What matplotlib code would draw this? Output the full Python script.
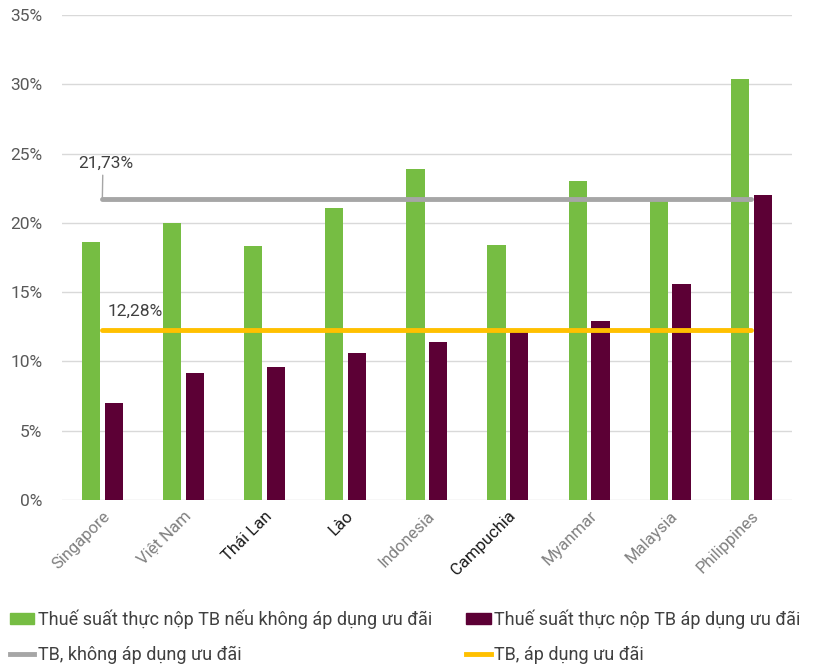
import matplotlib
matplotlib.use('Agg')

import numpy as np
import matplotlib.pyplot as plt
from matplotlib.patches import Patch
from matplotlib.lines import Line2D

plt.rcParams['font.family'] = ['Roboto', 'DejaVu Sans']

# === Data ===
countries = ["Singapore", "Việt Nam", "Thái Lan", "Lào", "Indonesia",
             "Campuchia", "Myanmar", "Malaysia", "Philippines"]
no_incentive = [18.6, 20.0, 18.3, 21.1, 23.9, 18.4, 23.0, 21.7, 30.4]
with_incentive = [7.0, 9.2, 9.6, 10.6, 11.4, 12.2, 12.9, 15.6, 22.0]
avg_no_incentive = 21.73
avg_incentive = 12.28
y_ticks = [0, 5, 10, 15, 20, 25, 30, 35]
dark_labels = ["Thái Lan", "Lào", "Campuchia"]

green = "#76BD43"
purple = "#5C0035"
gray = "#A6A6A6"
yellow = "#FFC000"

# === Figure ===
fig = plt.figure(figsize=(8.13, 6.67), dpi=100)
ax = fig.add_axes([0.076, 0.2504, 0.898, 0.7271])

x = np.arange(len(countries))
w = 0.225
ax.bar(x - 0.14, no_incentive, w, color=green, zorder=2)
ax.bar(x + 0.14, with_incentive, w, color=purple, zorder=2)

ax.plot([x[0], x[-1]], [avg_no_incentive] * 2, color=gray, lw=3.5,
        solid_capstyle='round', zorder=3)
ax.plot([x[0], x[-1]], [avg_incentive] * 2, color=yellow, lw=3.5,
        solid_capstyle='round', zorder=3)

ax.annotate(f"{avg_no_incentive:.2f}%".replace(".", ","),
            xy=(x[0], avg_no_incentive), xytext=(x[0] - 0.3, avg_no_incentive + 2.55),
            fontsize=12.5, color="#404040", va='center', ha='left',
            arrowprops=dict(arrowstyle='-', color=gray, lw=1,
                            shrinkA=1, shrinkB=0, relpos=(0.45, 0)))
ax.text(x[0] + 0.07, avg_incentive + 1.36, f"{avg_incentive:.2f}%".replace(".", ","),
        fontsize=12.5, color="#404040", va='center', ha='left')

ax.set_xlim(-0.5, len(countries) - 0.5)
ax.set_ylim(0, 35)
ax.set_yticks(y_ticks)
ax.set_yticklabels([f"{t}%" for t in y_ticks], fontsize=12.5, color="#595959")
ax.set_xticks(x)
ax.set_xticklabels(countries, rotation=45, ha='right', rotation_mode='anchor',
                   fontsize=12)
for lbl in ax.get_xticklabels():
    if lbl.get_text() in dark_labels:
        lbl.set_color("#1a1a1a")
    else:
        lbl.set_color("#808080")

ax.tick_params(axis='y', length=0, pad=14)
ax.tick_params(axis='x', length=0, pad=6)
ax.grid(True, axis='y', color="#D9D9D9", lw=1, zorder=0)
ax.set_axisbelow(True)
for s in ax.spines.values():
    s.set_visible(False)

# === Legend ===
handles = [Patch(color=green), Line2D([], [], color=gray, lw=3.5),
           Patch(color=purple), Line2D([], [], color=yellow, lw=3.5)]
labels = ["Thuế suất thực nộp TB nếu không áp dụng ưu đãi",
          "TB, không áp dụng ưu đãi",
          "Thuế suất thực nộp TB áp dụng ưu đãi",
          "TB, áp dụng ưu đãi"]
fig.legend(handles, labels, ncol=2, loc='lower left', bbox_to_anchor=(0.012, 0.005),
           frameon=False, fontsize=13, handlelength=1.35, handleheight=0.55,
           handletextpad=0.2, columnspacing=1.9, labelspacing=0.9,
           borderpad=0, borderaxespad=0, labelcolor="#404040")

plt.savefig("out.png", dpi=100)
